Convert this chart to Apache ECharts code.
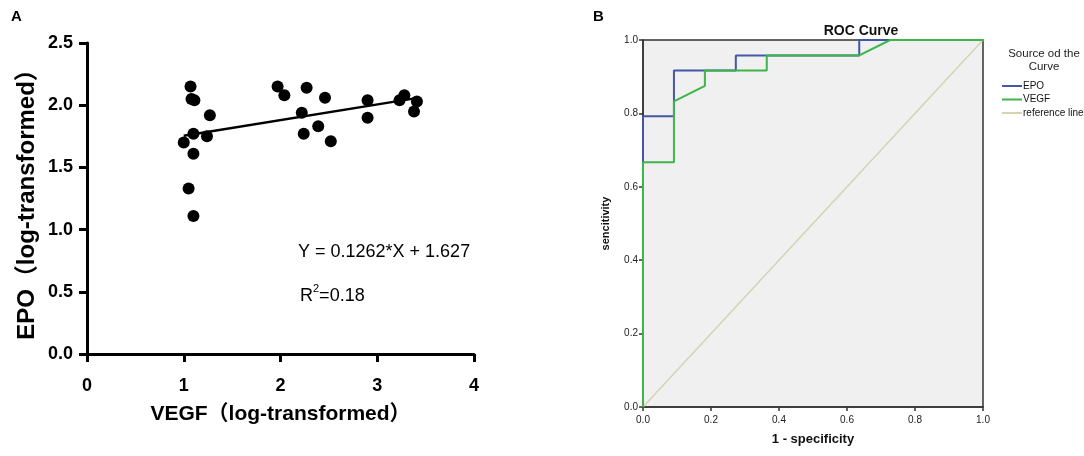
<!DOCTYPE html>
<html>
<head>
<meta charset="utf-8">
<title>EPO VEGF</title>
<script src="https://cdn.jsdelivr.net/npm/echarts@6/dist/echarts.min.js"></script>
<style>
  html, body { margin: 0; padding: 0; background: #fff; }
  #main { width: 1084px; height: 456px; }
</style>
</head>
<body>
<div id="main"></div>
<script>
// A: scatter, VEGF (x) vs EPO (y), both log-transformed
var vegfX = [1.07, 1.08, 1.11, 1.27, 1.10, 1.00, 1.24, 1.10, 1.05, 1.10,
             1.97, 2.04, 2.27, 2.22, 2.24, 2.39, 2.46, 2.52, 2.90, 2.90,
             3.23, 3.28, 3.41, 3.38];
var epoY  = [2.15, 2.05, 2.04, 1.92, 1.77, 1.70, 1.75, 1.61, 1.33, 1.11,
             2.15, 2.08, 2.14, 1.94, 1.77, 1.83, 2.06, 1.71, 2.04, 1.90,
             2.04, 2.08, 2.03, 1.95];
// fitted line ends
var fitX = [1.00, 3.42];
var fitY = [1.754, 2.059];
var fitText = 'Y = 0.1262*X + 1.627';
var r2Text = '0.18';

// B: ROC curve
var epoFpr  = [0, 0, 0.091, 0.091, 0.273, 0.273, 0.636, 0.636, 1];
var epoTpr  = [0, 0.792, 0.792, 0.917, 0.917, 0.958, 0.958, 1, 1];
var vegfFpr = [0, 0, 0.091, 0.091, 0.182, 0.182, 0.364, 0.364, 0.636, 0.727, 1];
var vegfTpr = [0, 0.667, 0.667, 0.833, 0.875, 0.917, 0.917, 0.958, 0.958, 1, 1];
var refFpr  = [0, 1];
var refTpr  = [0, 1];
var rocNames = ['EPO', 'VEGF', 'reference line'];

function pairs(xs, ys) {
    var out = [];
    for (var i = 0; i < xs.length; i++) out.push([xs[i], ys[i]]);
    return out;
}

var font = 'Arial, "Liberation Sans", "Noto Sans CJK SC", sans-serif';
var dom = document.getElementById('main');
var myChart = echarts.init(dom);
var option = null;

var axisA = {
    axisLine: { show: true, onZero: false, lineStyle: { color: '#000', width: 3 } },
    axisTick: { show: true, length: 8, lineStyle: { color: '#000', width: 3 } },
    splitLine: { show: false },
    nameLocation: 'middle'
};
var axisB = {
    axisLine: { show: true, onZero: false, lineStyle: { color: '#333', width: 1.5 } },
    axisTick: { show: true, length: 4, lineStyle: { color: '#333', width: 1.5 } },
    splitLine: { show: false },
    min: 0, max: 1, interval: 0.2,
    nameLocation: 'middle'
};
var fmt1 = function (v) { return v.toFixed(1); };

option = {
    animation: false,
    backgroundColor: '#fff',
    textStyle: { fontFamily: font },
    title: [
        { text: 'A', left: 6, top: 4, textStyle: { fontSize: 15, fontWeight: 'bold', color: '#000' } },
        { text: 'B', left: 588, top: 4, textStyle: { fontSize: 15, fontWeight: 'bold', color: '#000' } },
        { text: 'ROC Curve', left: 856, top: 19, textAlign: 'center',
          textStyle: { fontSize: 14, fontWeight: 'bold', color: '#111' } },
        { text: 'Source od the\nCurve', left: 1039, top: 42, textAlign: 'center',
          textStyle: { fontSize: 11.5, fontWeight: 'normal', color: '#222', lineHeight: 13 } }
    ],
    legend: {
        data: rocNames,
        orient: 'vertical',
        left: 997, top: 75,
        icon: 'rect',
        itemWidth: 20, itemHeight: 2, itemGap: 1.5,
        textStyle: { fontSize: 10, color: '#111', lineHeight: 12, padding: [0, 0, 0, -4] }
    },
    grid: [
        { left: 87, top: 43, width: 387, height: 311 },
        { left: 643, top: 40, width: 340, height: 367, show: true,
          backgroundColor: '#f0f0f0', borderColor: '#333', borderWidth: 1.5 }
    ],
    xAxis: [
        Object.assign({}, axisA, {
            gridIndex: 0, type: 'value', min: 0, max: 4, interval: 1,
            name: 'VEGF（log-transformed）', nameGap: 50,
            nameTextStyle: { fontSize: 21, fontWeight: 'bold', color: '#000', fontFamily: font },
            axisLabel: { fontSize: 18, fontWeight: 'bold', color: '#000', margin: 23 }
        }),
        Object.assign({}, axisB, {
            gridIndex: 1, type: 'value',
            name: '1 - specificity', nameGap: 26,
            nameTextStyle: { fontSize: 13, fontWeight: 'bold', color: '#111', fontFamily: font },
            axisLabel: { fontSize: 10, color: '#222', margin: 8, formatter: fmt1 }
        })
    ],
    yAxis: [
        Object.assign({}, axisA, {
            gridIndex: 0, type: 'value', min: 0, max: 2.5, interval: 0.5,
            name: 'EPO（log-transformed）', nameGap: 48,
            nameTextStyle: { fontSize: 24, fontWeight: 'bold', color: '#000', fontFamily: font },
            axisLabel: { fontSize: 18, fontWeight: 'bold', color: '#000', margin: 14, formatter: fmt1 }
        }),
        Object.assign({}, axisB, {
            gridIndex: 1, type: 'value',
            name: 'sencitivity', nameGap: 32,
            nameTextStyle: { fontSize: 11, fontWeight: 'bold', color: '#111', fontFamily: font },
            axisLabel: { fontSize: 10, color: '#222', margin: 5, formatter: fmt1 }
        })
    ],
    graphic: [
        { type: 'text', left: 298, top: 243,
          style: { text: fitText, fontSize: 18, fill: '#000', fontFamily: font } },
        { type: 'text', left: 300, top: 283,
          style: {
              text: '{b|R}{s|2}{b|=' + r2Text + '}',
              fill: '#000', fontFamily: font,
              rich: {
                  b: { fontSize: 18, fontFamily: font, verticalAlign: 'bottom', lineHeight: 22 },
                  s: { fontSize: 11, fontFamily: font, verticalAlign: 'top', lineHeight: 22 }
              }
          } }
    ],
    series: [
        {
            type: 'scatter', xAxisIndex: 0, yAxisIndex: 0,
            symbolSize: 12,
            itemStyle: { color: '#000', opacity: 1 },
            data: pairs(vegfX, epoY),
            z: 3
        },
        {
            type: 'line', xAxisIndex: 0, yAxisIndex: 0,
            symbol: 'none',
            lineStyle: { color: '#000', width: 2.5 },
            data: pairs(fitX, fitY),
            z: 4
        },
        {
            name: rocNames[2], type: 'line', xAxisIndex: 1, yAxisIndex: 1,
            symbol: 'none', clip: false,
            lineStyle: { color: '#d4d4b2', width: 1.5 },
            itemStyle: { color: '#d4d4b2' },
            data: pairs(refFpr, refTpr)
        },
        {
            name: rocNames[0], type: 'line', xAxisIndex: 1, yAxisIndex: 1,
            symbol: 'none', clip: false,
            lineStyle: { color: '#4356a8', width: 2 },
            itemStyle: { color: '#4356a8' },
            data: pairs(epoFpr, epoTpr)
        },
        {
            name: rocNames[1], type: 'line', xAxisIndex: 1, yAxisIndex: 1,
            symbol: 'none', clip: false,
            lineStyle: { color: '#3db549', width: 2 },
            itemStyle: { color: '#3db549' },
            data: pairs(vegfFpr, vegfTpr)
        }
    ]
};

myChart.setOption(option, true);
</script>
</body>
</html>
